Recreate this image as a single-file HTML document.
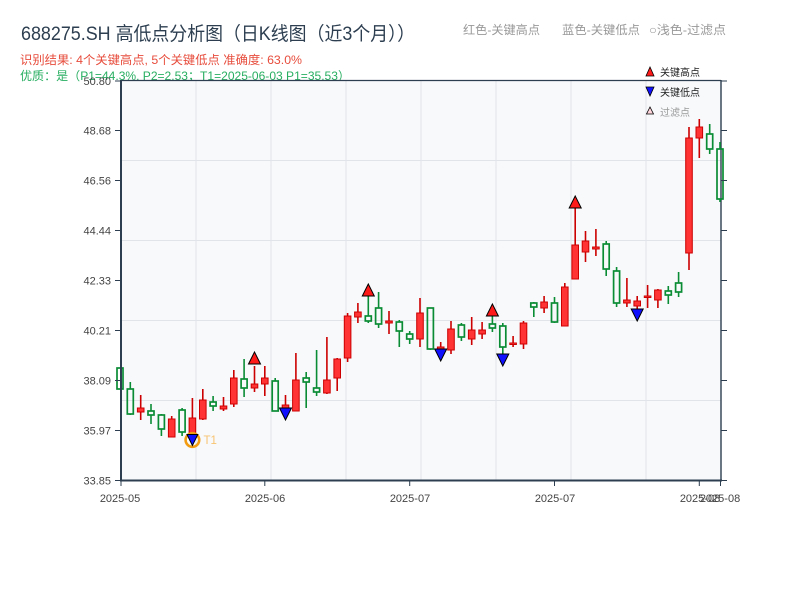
<!DOCTYPE html>
<html><head><meta charset="utf-8"><style>
html,body{margin:0;padding:0;background:#fff;}
svg{display:block;}
.rw{stroke:#cc0000;stroke-width:1.6;fill:none;}
.r{fill:#ff3333;stroke:#cc0000;stroke-width:1;}
.gw{stroke:#0a8c34;stroke-width:1.6;fill:none;}
.g{fill:none;stroke:#0a8c34;stroke-width:1.7;}
.grid{stroke:#e1e4e8;stroke-width:1;}
.tk{font-family:"Liberation Sans","Noto Sans CJK SC",sans-serif;font-size:11px;fill:#444;}
.hi{fill:#ff1a1a;stroke:#000;stroke-width:1;}
.lo{fill:#1010ff;stroke:#000;stroke-width:1;}
</style></head><body>
<svg width="800" height="600" viewBox="0 0 800 600" xmlns="http://www.w3.org/2000/svg">
<rect width="800" height="600" fill="#fff"/>
<!-- title -->
<text x="21" y="40" font-family="Liberation Sans,'Noto Sans CJK SC',sans-serif" font-size="19" fill="#2c3e50" textLength="394" lengthAdjust="spacingAndGlyphs">688275.SH 高低点分析图（日K线图（近3个月））</text>
<text x="463" y="34" font-family="Liberation Sans,'Noto Sans CJK SC',sans-serif" font-size="12" fill="#999" textLength="77" lengthAdjust="spacingAndGlyphs">红色-关键高点</text>
<text x="562" y="34" font-family="Liberation Sans,'Noto Sans CJK SC',sans-serif" font-size="12" fill="#999" textLength="78" lengthAdjust="spacingAndGlyphs">蓝色-关键低点</text>
<text x="649" y="34" font-family="Liberation Sans,'Noto Sans CJK SC',sans-serif" font-size="12" fill="#999" textLength="77" lengthAdjust="spacingAndGlyphs">○浅色-过滤点</text>
<text x="20" y="64" font-family="Liberation Sans,'Noto Sans CJK SC',sans-serif" font-size="12" fill="#e74c3c" textLength="282" lengthAdjust="spacingAndGlyphs">识别结果: 4个关键高点, 5个关键低点  准确度: 63.0%</text>
<text x="20" y="80" font-family="Liberation Sans,'Noto Sans CJK SC',sans-serif" font-size="12" fill="#27ae60" textLength="330" lengthAdjust="spacingAndGlyphs">优质：是（P1=44.3%, P2=2.53；T1=2025-06-03 P1=35.53）</text>
<!-- plot bg -->
<rect x="121" y="81" width="600" height="399" fill="#f7f9fb"/>
<g class="grid">
<line x1="196" y1="81" x2="196" y2="480"/><line x1="271" y1="81" x2="271" y2="480"/><line x1="346" y1="81" x2="346" y2="480"/><line x1="421" y1="81" x2="421" y2="480"/><line x1="496" y1="81" x2="496" y2="480"/><line x1="571" y1="81" x2="571" y2="480"/><line x1="646" y1="81" x2="646" y2="480"/>
<line x1="121" y1="160.5" x2="721" y2="160.5"/><line x1="121" y1="240.5" x2="721" y2="240.5"/><line x1="121" y1="320.5" x2="721" y2="320.5"/><line x1="121" y1="400.5" x2="721" y2="400.5"/>
</g>
<!-- candles -->
<rect class="g" x="117" y="368" width="6" height="21"/>
<path class="gw" d="M130.3 382V389M130.3 414V415"/><rect class="g" x="127.3" y="389" width="6" height="25"/>
<path class="rw" d="M140.7 395V420"/><rect class="r" x="137.4" y="408" width="6.6" height="4"/>
<path class="gw" d="M151 404V411M151 415V424"/><rect class="g" x="148" y="411" width="6" height="4"/>
<path class="gw" d="M161.4 414V415M161.4 429V436"/><rect class="g" x="158.4" y="415" width="6" height="14"/>
<path class="rw" d="M171.7 416V437"/><rect class="r" x="168.4" y="419" width="6.6" height="18"/>
<path class="gw" d="M182.1 408V410M182.1 432V436"/><rect class="g" x="179.1" y="410" width="6" height="22"/>
<path class="rw" d="M192.4 398V440"/><rect class="r" x="189.1" y="418" width="6.6" height="15"/>
<path class="rw" d="M202.8 389V420"/><rect class="r" x="199.5" y="400" width="6.6" height="19"/>
<path class="gw" d="M213.1 396V402M213.1 406V411"/><rect class="g" x="210.1" y="402" width="6" height="4"/>
<path class="rw" d="M223.5 397V411"/><rect class="r" x="220.2" y="406" width="6.6" height="3"/>
<path class="rw" d="M233.8 370V407"/><rect class="r" x="230.5" y="378" width="6.6" height="26"/>
<path class="gw" d="M244.1 359V379M244.1 388V397"/><rect class="g" x="241.1" y="379" width="6" height="9"/>
<path class="rw" d="M254.5 366V392"/><rect class="r" x="251.2" y="384" width="6.6" height="4"/>
<path class="rw" d="M264.8 366V396"/><rect class="r" x="261.5" y="378" width="6.6" height="6"/>
<path class="gw" d="M275.2 378V381"/><rect class="g" x="272.2" y="381" width="6" height="30"/>
<path class="rw" d="M285.5 395V410"/><rect class="r" x="282.2" y="405" width="6.6" height="3"/>
<path class="rw" d="M295.9 353V411"/><rect class="r" x="292.6" y="380" width="6.6" height="31"/>
<path class="gw" d="M306.2 372V378M306.2 382V408"/><rect class="g" x="303.2" y="378" width="6" height="4"/>
<path class="gw" d="M316.6 350V388M316.6 392V396"/><rect class="g" x="313.6" y="388" width="6" height="4"/>
<path class="rw" d="M326.9 337V394"/><rect class="r" x="323.6" y="380" width="6.6" height="13"/>
<path class="rw" d="M337.2 358V391"/><rect class="r" x="333.9" y="359" width="6.6" height="19"/>
<path class="rw" d="M347.6 313V362"/><rect class="r" x="344.3" y="316" width="6.6" height="42"/>
<path class="rw" d="M357.9 303V323"/><rect class="r" x="354.6" y="312" width="6.6" height="5"/>
<path class="gw" d="M368.3 292V316M368.3 321V323"/><rect class="g" x="365.3" y="316" width="6" height="5"/>
<path class="gw" d="M378.6 292V308M378.6 324V328"/><rect class="g" x="375.6" y="308" width="6" height="16"/>
<path class="rw" d="M389 311V334"/><rect class="r" x="385.7" y="321" width="6.6" height="2"/>
<path class="gw" d="M399.3 320V322M399.3 331V347"/><rect class="g" x="396.3" y="322" width="6" height="9"/>
<path class="gw" d="M409.7 331V334M409.7 339V344"/><rect class="g" x="406.7" y="334" width="6" height="5"/>
<path class="rw" d="M420 298V347"/><rect class="r" x="416.7" y="313" width="6.6" height="26"/>
<path class="gw" d="M430.4 349V350"/><rect class="g" x="427.4" y="308" width="6" height="41"/>
<path class="rw" d="M440.7 342V351"/><rect class="r" x="437.4" y="347" width="6.6" height="2"/>
<path class="rw" d="M451 321V354"/><rect class="r" x="447.7" y="329" width="6.6" height="21"/>
<path class="gw" d="M461.4 323V325M461.4 337V341"/><rect class="g" x="458.4" y="325" width="6" height="12"/>
<path class="rw" d="M471.7 317V345"/><rect class="r" x="468.4" y="330" width="6.6" height="9"/>
<path class="rw" d="M482.1 322V339"/><rect class="r" x="478.8" y="330" width="6.6" height="4"/>
<path class="gw" d="M492.4 316V324M492.4 328V332"/><rect class="g" x="489.4" y="324" width="6" height="4"/>
<path class="gw" d="M502.8 323V326M502.8 347V355"/><rect class="g" x="499.8" y="326" width="6" height="21"/>
<path class="rw" d="M513.1 336V347"/><rect class="r" x="509.8" y="343" width="6.6" height="1.5"/>
<path class="rw" d="M523.5 321V349"/><rect class="r" x="520.2" y="323" width="6.6" height="21"/>
<path class="gw" d="M533.8 302V303M533.8 307V317"/><rect class="g" x="530.8" y="303" width="6" height="4"/>
<path class="rw" d="M544.1 296V313"/><rect class="r" x="540.8" y="302" width="6.6" height="6"/>
<path class="gw" d="M554.5 297V303M554.5 322V323"/><rect class="g" x="551.5" y="303" width="6" height="19"/>
<path class="rw" d="M564.8 283V326"/><rect class="r" x="561.5" y="287" width="6.6" height="39"/>
<path class="rw" d="M575.2 208V279"/><rect class="r" x="571.9" y="245" width="6.6" height="34"/>
<path class="rw" d="M585.5 231V262"/><rect class="r" x="582.2" y="241" width="6.6" height="11"/>
<path class="rw" d="M595.9 229V256"/><rect class="r" x="592.6" y="247" width="6.6" height="2"/>
<path class="gw" d="M606.2 241V244M606.2 269V276"/><rect class="g" x="603.2" y="244" width="6" height="25"/>
<path class="gw" d="M616.6 267V271M616.6 303V307"/><rect class="g" x="613.6" y="271" width="6" height="32"/>
<path class="rw" d="M626.9 278V307"/><rect class="r" x="623.6" y="300" width="6.6" height="3"/>
<path class="rw" d="M637.2 296V310"/><rect class="r" x="633.9" y="301" width="6.6" height="5"/>
<path class="rw" d="M647.6 285V308"/><rect class="r" x="644.3" y="296" width="6.6" height="1.5"/>
<path class="rw" d="M657.9 289V308"/><rect class="r" x="654.6" y="290" width="6.6" height="10"/>
<path class="gw" d="M668.3 286V291M668.3 295V304"/><rect class="g" x="665.3" y="291" width="6" height="4"/>
<path class="gw" d="M678.6 272V283M678.6 292V297"/><rect class="g" x="675.6" y="283" width="6" height="9"/>
<path class="rw" d="M689 127V270"/><rect class="r" x="685.7" y="138" width="6.6" height="115"/>
<path class="rw" d="M699.3 119V158"/><rect class="r" x="696" y="127" width="6.6" height="11"/>
<path class="gw" d="M709.7 124V134M709.7 149V154"/><rect class="g" x="706.7" y="134" width="6" height="15"/>
<!-- axes spines -->
<g stroke="#2c3e50" fill="none">
<line x1="121" y1="80.5" x2="721" y2="80.5" stroke-width="1.2"/>
<line x1="721" y1="80" x2="721" y2="481" stroke-width="1.4"/>
<line x1="121" y1="80" x2="121" y2="481.5" stroke-width="2"/>
<line x1="120" y1="480.5" x2="722" y2="480.5" stroke-width="2"/>
</g>
<path class="gw" d="M720 142V149M720 199V202"/><rect class="g" x="717" y="149" width="6" height="50"/>
<!-- ticks -->
<g stroke="#2c3e50" stroke-width="1">
<path d="M115 480.5H121M115 430.5H121M115 380.5H121M115 330.5H121M115 280.5H121M115 230.5H121M115 180.5H121M115 130.5H121M115 81H121"/>
<path d="M721 430.5H727M721 380.5H727M721 330.5H727M721 280.5H727M721 230.5H727M721 180.5H727M721 130.5H727M721 81H727M721 480.5H727"/>
<path d="M121 481V486M264.8 481V486M409.7 481V486M554.5 481V486M699.3 481V486M720.5 481V486"/>
</g>
<g class="tk" text-anchor="end">
<text x="111" y="484.5">33.85</text>
<text x="111" y="434.5">35.97</text>
<text x="111" y="384.5">38.09</text>
<text x="111" y="334.5">40.21</text>
<text x="111" y="284.5">42.33</text>
<text x="111" y="234.5">44.44</text>
<text x="111" y="184.5">46.56</text>
<text x="111" y="134.5">48.68</text>
<text x="111" y="85">50.80</text>
</g>
<g class="tk" text-anchor="middle">
<text x="120" y="502">2025-05</text>
<text x="265" y="502">2025-06</text>
<text x="410" y="502">2025-07</text>
<text x="555" y="502">2025-07</text>
<text x="700" y="502">2025-08</text>
<text x="720" y="502">2025-08</text>
</g>
<!-- markers -->
<polygon class="hi" points="254.5,352 248.5,364 260.5,364"/>
<polygon class="hi" points="368.3,284 362.3,296 374.3,296"/>
<polygon class="hi" points="492.4,304 486.4,316 498.4,316"/>
<polygon class="hi" points="575.2,196 569.2,208 581.2,208"/>
<circle cx="192.4" cy="440" r="6.8" fill="none" stroke="#f39c12" stroke-width="2.6"/>
<polygon class="lo" points="187,434.5 197.8,434.5 192.4,445.5"/>
<polygon class="lo" points="279.5,408 291.5,408 285.5,420"/>
<polygon class="lo" points="434.7,349 446.7,349 440.7,361"/>
<polygon class="lo" points="496.8,354 508.8,354 502.8,366"/>
<polygon class="lo" points="631.2,309 643.2,309 637.2,321"/>
<text x="203.5" y="444" font-family="Liberation Sans,sans-serif" font-size="11.5" fill="#f8c471">T1</text>
<!-- legend -->
<polygon points="650,67 646,76 654,76" fill="#ff1a1a" stroke="#000" stroke-width="0.8"/>
<text x="660" y="76" font-family="Liberation Sans,'Noto Sans CJK SC',sans-serif" font-size="10" fill="#222">关键高点</text>
<polygon points="646,87 654,87 650,96" fill="#1010ff" stroke="#000" stroke-width="0.8"/>
<text x="660" y="96" font-family="Liberation Sans,'Noto Sans CJK SC',sans-serif" font-size="10" fill="#222">关键低点</text>
<polygon points="650,107 646.5,114 653.5,114" fill="#ffd6dc" stroke="#000" stroke-width="0.8"/>
<text x="660" y="116" font-family="Liberation Sans,'Noto Sans CJK SC',sans-serif" font-size="10" fill="#999">过滤点</text>
</svg>
</body></html>
